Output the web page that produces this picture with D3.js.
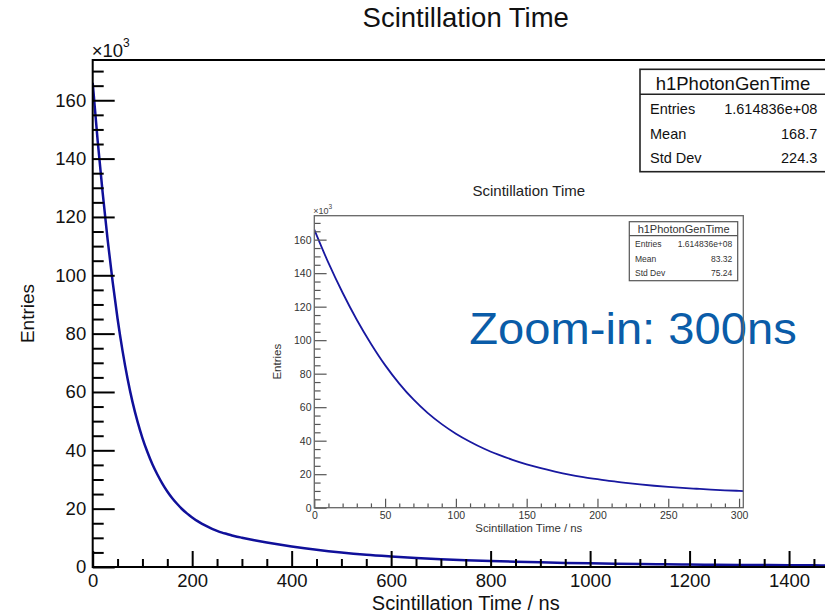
<!DOCTYPE html>
<html>
<head>
<meta charset="utf-8">
<script src="https://cdn.jsdelivr.net/npm/d3@7"></script>
<style>
  html, body { margin: 0; padding: 0; background: #fff; }
  svg { display: block; font-family: "Liberation Sans", Arial, sans-serif; }
</style>
</head>
<body>
<svg id="chart" width="825" height="613"></svg>
<script>
// Photon generation time histogram (entries in units of 10^3 per bin)
const timeNs = [
  0, 10, 20, 30, 40, 50, 60, 70, 80, 90,
  100, 110, 120, 130, 140, 150, 160, 170, 180, 190,
  200, 210, 220, 230, 240, 250, 260, 270, 280, 290,
  300, 325, 350, 375, 400, 450, 500, 550, 600, 650,
  700, 750, 800, 850, 900, 950, 1000, 1050, 1100, 1150,
  1200, 1250, 1300, 1350, 1400, 1450, 1500
];
const entriesK = [
  166, 146.1, 128.3, 112.2, 97.9, 85.1, 74.1, 64.6, 56.6, 49.9,
  44.2, 39.4, 35.2, 31.7, 28.6, 25.9, 23.6, 21.6, 19.8, 18.3,
  17.0, 15.8, 14.8, 13.9, 13.1, 12.4, 11.8, 11.3, 10.8, 10.4,
  10.05, 9.2, 8.42, 7.7, 7.05, 5.89, 4.95, 4.2, 3.62, 3.11,
  2.69, 2.34, 2.05, 1.8, 1.59, 1.41, 1.26, 1.13, 1.02, 0.93,
  0.85, 0.78, 0.72, 0.66, 0.61, 0.56, 0.52
];

// Axis tick labels
const mainXTicks = [0, 200, 400, 600, 800, 1000, 1200, 1400];
const mainYTicks = [0, 20, 40, 60, 80, 100, 120, 140, 160];
const insetXTicks = [0, 50, 100, 150, 200, 250, 300];
const insetYTicks = [0, 20, 40, 60, 80, 100, 120, 140, 160];

// Statistics boxes
const statLabels = ["Entries", "Mean", "Std Dev"];
const mainStatValues = ["1.614836e+08", "168.7", "224.3"];
const insetStatValues = ["1.614836e+08", "83.32", "75.24"];
const histName = "h1PhotonGenTime";

const titleText = "Scintillation Time";
const xTitleText = "Scintillation Time / ns";
const yTitleText = "Entries";
const noteText = "Zoom-in: 300ns";

const svg = d3.select("#chart");
const series = timeNs.map((t, i) => ({ t, v: entriesK[i] }));

const line = (x, y) => d3.line().x(d => x(d.t)).y(d => y(d.v)).curve(d3.curveMonotoneX);

function styleAxis(sel, color, width, fontSize, textColor) {
  sel.select(".domain").remove();
  sel.selectAll(".tick line").attr("stroke", color).attr("stroke-width", width);
  sel.selectAll(".tick text")
    .attr("fill", textColor)
    .attr("font-size", fontSize)
    .attr("font-family", "'Liberation Sans', Arial, sans-serif");
}

function minorValues(max, step, majors) {
  return d3.range(0, max + 1e-9, step).filter(v => !majors.includes(v));
}

// ---------------- main panel ----------------
const M = { left: 92.7, right: 838.8, top: 60, bottom: 567 };
const xMain = d3.scaleLinear().domain([0, 1500]).range([M.left, M.right]);
const yMain = d3.scaleLinear().domain([0, 173.8]).range([M.bottom, M.top]);

svg.append("defs").append("clipPath").attr("id", "clipMain")
  .append("rect").attr("x", M.left).attr("y", M.top)
  .attr("width", M.right - M.left).attr("height", M.bottom - M.top);

svg.append("path")
  .datum(series)
  .attr("clip-path", "url(#clipMain)")
  .attr("fill", "none")
  .attr("stroke", "#10109a")
  .attr("stroke-width", 2.5)
  .attr("d", line(xMain, yMain));

// minor ticks
svg.append("g").attr("transform", `translate(0,${M.bottom})`)
  .call(d3.axisBottom(xMain).tickValues(minorValues(1500, 50, mainXTicks)).tickSize(-8).tickFormat(""))
  .call(s => styleAxis(s, "#000", 2, 18, "#000"));
svg.append("g").attr("transform", `translate(${M.left},0)`)
  .call(d3.axisLeft(yMain).tickValues(minorValues(170, 5, mainYTicks)).tickSize(-11).tickFormat(""))
  .call(s => styleAxis(s, "#000", 2, 18, "#000"));
// major ticks
svg.append("g").attr("transform", `translate(0,${M.bottom})`)
  .call(d3.axisBottom(xMain).tickValues(mainXTicks).tickSize(-16).tickPadding(7).tickFormat(d3.format("d")))
  .call(s => styleAxis(s, "#000", 2, 18.5, "#111"));
svg.append("g").attr("transform", `translate(${M.left},0)`)
  .call(d3.axisLeft(yMain).tickValues(mainYTicks).tickSize(-22).tickPadding(6.5).tickFormat(d3.format("d")))
  .call(s => styleAxis(s, "#000", 2, 18.5, "#111"));

svg.append("rect")
  .attr("x", M.left).attr("y", M.top)
  .attr("width", M.right - M.left).attr("height", M.bottom - M.top)
  .attr("fill", "none").attr("stroke", "#000").attr("stroke-width", 2);

// x10^3 multiplier
const mulMain = svg.append("text").attr("x", M.left - 1).attr("y", 56.7)
  .attr("font-size", 18.5).attr("fill", "#111");
mulMain.append("tspan").text("\u00d710");
mulMain.append("tspan").attr("font-size", 12).attr("dy", -9.5).text("3");

// titles
svg.append("text").attr("x", (M.left + M.right) / 2).attr("y", 26.5)
  .attr("text-anchor", "middle").attr("font-size", 27.5).attr("fill", "#111").text(titleText);
svg.append("text").attr("x", (M.left + M.right) / 2).attr("y", 610)
  .attr("text-anchor", "middle").attr("font-size", 20).attr("fill", "#111").text(xTitleText);
svg.append("text").attr("transform", `translate(34,${(M.top + M.bottom) / 2}) rotate(-90)`)
  .attr("text-anchor", "middle").attr("font-size", 19).attr("fill", "#111").text(yTitleText);

// statistics box
function statsBox(b) {
  const g = svg.append("g");
  g.append("rect").attr("x", b.x).attr("y", b.y).attr("width", b.w).attr("height", b.h)
    .attr("fill", "#fff").attr("stroke", b.stroke).attr("stroke-width", b.sw);
  g.append("line").attr("x1", b.x).attr("x2", b.x + b.w).attr("y1", b.sep).attr("y2", b.sep)
    .attr("stroke", b.stroke).attr("stroke-width", b.sw);
  g.append("text").attr("x", b.headX).attr("y", b.headY).attr("text-anchor", "middle")
    .attr("font-size", b.headSize).attr("fill", b.color).text(histName);
  statLabels.forEach((lab, i) => {
    g.append("text").attr("x", b.labX).attr("y", b.rowY[i]).attr("font-size", b.rowSize)
      .attr("fill", b.color).text(lab);
    g.append("text").attr("x", b.valX).attr("y", b.rowY[i]).attr("font-size", b.rowSize)
      .attr("text-anchor", "end").attr("fill", b.color).text(b.values[i]);
  });
}

statsBox({
  x: 640, y: 69.3, w: 188, h: 102.4, sep: 94.3, stroke: "#222", sw: 1.6,
  headX: 733, headY: 90, headSize: 18.5, color: "#111",
  labX: 650, valX: 817.3, rowY: [114.3, 139.3, 163.3], rowSize: 14.5,
  values: mainStatValues
});

// ---------------- inset panel ----------------
const I = { left: 314.3, right: 743.3, top: 215.7, bottom: 507.7 };
const xIn = d3.scaleLinear().domain([0, 303]).range([I.left, I.right]);
const yIn = d3.scaleLinear().domain([0, 174.3]).range([I.bottom, I.top]);

svg.append("rect").attr("x", 262).attr("y", 178).attr("width", 490).attr("height", 362)
  .attr("fill", "#fff");

svg.select("defs").append("clipPath").attr("id", "clipInset")
  .append("rect").attr("x", I.left).attr("y", I.top)
  .attr("width", I.right - I.left).attr("height", I.bottom - I.top);

svg.append("path")
  .datum(series.filter(d => d.t <= 350))
  .attr("clip-path", "url(#clipInset)")
  .attr("fill", "none")
  .attr("stroke", "#1818a0")
  .attr("stroke-width", 1.8)
  .attr("d", line(xIn, yIn));

const inkIn = "#555";
svg.append("g").attr("transform", `translate(0,${I.bottom})`)
  .call(d3.axisBottom(xIn).tickValues(minorValues(300, 10, insetXTicks)).tickSize(-4.3).tickFormat(""))
  .call(s => styleAxis(s, inkIn, 1.2, 10.5, "#333"));
svg.append("g").attr("transform", `translate(${I.left},0)`)
  .call(d3.axisLeft(yIn).tickValues(minorValues(170, 5, insetYTicks)).tickSize(-6.3).tickFormat(""))
  .call(s => styleAxis(s, inkIn, 1.2, 10.5, "#333"));
svg.append("g").attr("transform", `translate(0,${I.bottom})`)
  .call(d3.axisBottom(xIn).tickValues(insetXTicks).tickSize(-9).tickPadding(3.8).tickFormat(d3.format("d")))
  .call(s => styleAxis(s, inkIn, 1.2, 10.5, "#333"));
svg.append("g").attr("transform", `translate(${I.left},0)`)
  .call(d3.axisLeft(yIn).tickValues(insetYTicks).tickSize(-12.3).tickPadding(2.8).tickFormat(d3.format("d")))
  .call(s => styleAxis(s, inkIn, 1.2, 10.5, "#333"));

const mulIn = svg.append("text").attr("x", I.left - 1).attr("y", 213.5)
  .attr("font-size", 9).attr("fill", "#444");
mulIn.append("tspan").text("\u00d710");
mulIn.append("tspan").attr("font-size", 6.5).attr("dy", -4.5).text("3");

svg.append("text").attr("x", (I.left + I.right) / 2).attr("y", 196)
  .attr("text-anchor", "middle").attr("font-size", 15).attr("fill", "#222").text(titleText);
svg.append("text").attr("x", (I.left + I.right) / 2).attr("y", 532.3)
  .attr("text-anchor", "middle").attr("font-size", 11.4).attr("fill", "#333").text(xTitleText);
svg.append("text").attr("transform", `translate(281,${(I.top + I.bottom) / 2}) rotate(-90)`)
  .attr("text-anchor", "middle").attr("font-size", 11.5).attr("fill", "#333").text(yTitleText);

statsBox({
  x: 629.3, y: 221.7, w: 108.4, h: 59, sep: 235.7, stroke: "#555", sw: 1.2,
  headX: 683.6, headY: 233.3, headSize: 11, color: "#333",
  labX: 635, valX: 732.3, rowY: [247.3, 261.7, 276], rowSize: 8.5,
  values: insetStatValues
});

// annotation, drawn beneath the inset frame lines
svg.append("text").attr("x", 469.3).attr("y", 343.5)
  .attr("font-size", 45).attr("fill", "#0a5ca8")
  .attr("textLength", 327.4).attr("lengthAdjust", "spacingAndGlyphs")
  .text(noteText);

svg.append("rect")
  .attr("x", I.left).attr("y", I.top)
  .attr("width", I.right - I.left).attr("height", I.bottom - I.top)
  .attr("fill", "none").attr("stroke", "#666").attr("stroke-width", 1.3);
</script>
</body>
</html>
